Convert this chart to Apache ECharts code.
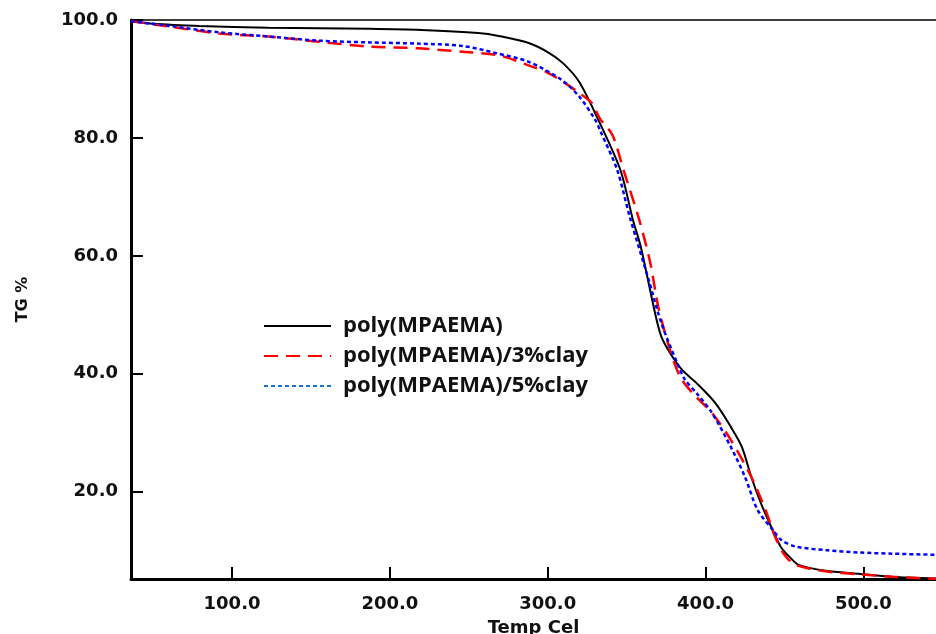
<!DOCTYPE html>
<html>
<head>
<meta charset="utf-8">
<script src="https://cdn.jsdelivr.net/npm/echarts@6/dist/echarts.min.js"></script>
<style>html,body{margin:0;padding:0;background:#fff;overflow:hidden;}#c{width:936px;height:634px;}</style>
</head>
<body>
<div id="c"></div>
<script>
var seriesNames = ['poly(MPAEMA)', 'poly(MPAEMA)/3%clay', 'poly(MPAEMA)/5%clay'];
var xTicks = [100, 200, 300, 400, 500];
var yTicks = [20, 40, 60, 80, 100];

var blackTemp = [36,48,79,123,187,220,256,269,288,301,310,320,332,346,354,359,368,372,378,385,394,406,416,423,429,435,442,448,453,459,476,497,518,546];
var blackTG   = [100.0,99.4,99.0,98.7,98.5,98.3,97.8,97.3,96.1,94.4,92.6,89.5,83.1,74.6,66.1,61.5,50.3,46.3,43.3,40.7,38.5,35.1,31.0,27.6,22.5,18.1,13.8,10.5,9.0,7.6,6.6,6.1,5.6,5.3];

var redTemp = [36,60,92,123,155,187,218,246,269,290,299,311,320,328,333,341,348,358,365,370,375,380,385,394,404,416,429,438,444,450,457,476,497,518,546];
var redTG   = [99.8,98.9,97.7,97.2,96.3,95.5,95.2,94.6,94.0,92.1,91.2,89.3,87.6,85.9,83.3,80.5,74.6,66.1,58.8,51.4,46.3,42.0,39.0,36.1,33.4,28.8,22.5,16.9,12.4,9.3,7.6,6.5,6.0,5.6,5.2];

var blueTemp = [36,60,92,123,155,187,218,246,267,288,309,320,330,334,344,352,364,372,383,387,395,404,416,425,433,443,448,457,476,497,518,546];
var blueTG   = [99.8,99.0,97.9,97.2,96.5,96.2,96.0,95.6,94.4,92.9,89.8,87.0,83.1,80.8,74.6,66.6,55.9,48.6,41.2,39.0,36.5,33.4,27.6,22.5,16.9,13.4,11.8,10.7,10.1,9.7,9.5,9.3];

function zip(a, b) { return a.map(function (v, i) { return [v, b[i]]; }); }

var chart = echarts.init(document.getElementById('c'), null, {renderer: 'canvas'});
var tickFont = {fontFamily: 'DejaVu Sans', fontWeight: 'bold', fontSize: 18, color: '#111'};
chart.setOption({
  animation: false,
  backgroundColor: '#fff',
  grid: {left: 131, top: 20, width: 805, height: 559, containLabel: false, outerBoundsMode: 'none'},
  legend: {
    orient: 'vertical', left: 263, top: 315, padding: 0, itemWidth: 67, itemHeight: 14, itemGap: 8,
    itemStyle: {opacity: 0},
    textStyle: {fontFamily: 'Open Sans', fontWeight: 'bold', fontSize: 22, color: '#111', lineHeight: 22, padding: [0, 0, 0, 7]},
    data: [
      {name: seriesNames[0]},
      {name: seriesNames[1]},
      {name: seriesNames[2], lineStyle: {color: '#1a73cc'}}
    ]
  },
  xAxis: [{
    type: 'value', min: 36, max: 546, position: 'bottom',
    name: 'Temp Cel', nameLocation: 'middle', nameGap: 40,
    nameTextStyle: {fontFamily: 'DejaVu Sans', fontWeight: 'bold', fontSize: 18, color: '#111'},
    axisLine: {show: true, onZero: false, lineStyle: {color: '#000', width: 3}},
    axisTick: {show: true, inside: true, length: 12, lineStyle: {color: '#000', width: 2}, customValues: xTicks},
    axisLabel: Object.assign({margin: 16, customValues: xTicks, formatter: function (v) { return v.toFixed(1); }}, tickFont),
    splitLine: {show: false}
  }, {
    type: 'value', min: 36, max: 546, position: 'top',
    axisLine: {show: true, onZero: false, lineStyle: {color: '#000', width: 1.5}},
    axisTick: {show: false}, axisLabel: {show: false}, splitLine: {show: false}
  }],
  yAxis: {
    type: 'value', min: 5.2, max: 100,
    name: 'TG %', nameLocation: 'middle', nameGap: 100, nameRotate: 90,
    nameTextStyle: {fontFamily: 'DejaVu Sans', fontWeight: 'bold', fontSize: 16, color: '#111'},
    axisLine: {show: true, onZero: false, lineStyle: {color: '#000', width: 3}},
    axisTick: {show: true, inside: true, length: 12, lineStyle: {color: '#000', width: 2}, customValues: yTicks},
    axisLabel: Object.assign({margin: 13, customValues: yTicks, formatter: function (v) { return v.toFixed(1); }}, tickFont),
    splitLine: {show: false}
  },
  series: [
    {name: seriesNames[0], type: 'line', xAxisIndex: 0, data: zip(blackTemp, blackTG), symbol: 'none', smooth: 0.3,
     lineStyle: {color: '#000', width: 2, type: 'solid'}, itemStyle: {color: '#000'}, z: 3},
    {name: seriesNames[1], type: 'line', xAxisIndex: 0, data: zip(redTemp, redTG), symbol: 'none', smooth: 0.3,
     lineStyle: {color: '#ff0000', width: 2.5, type: [14, 8]}, itemStyle: {color: '#ff0000'}, z: 4},
    {name: seriesNames[2], type: 'line', xAxisIndex: 0, data: zip(blueTemp, blueTG), symbol: 'none', smooth: 0.3,
     lineStyle: {color: '#0000ff', width: 2.5, type: [4, 3]}, itemStyle: {color: '#0000ff'}, z: 5}
  ]
});
</script>
</body>
</html>
